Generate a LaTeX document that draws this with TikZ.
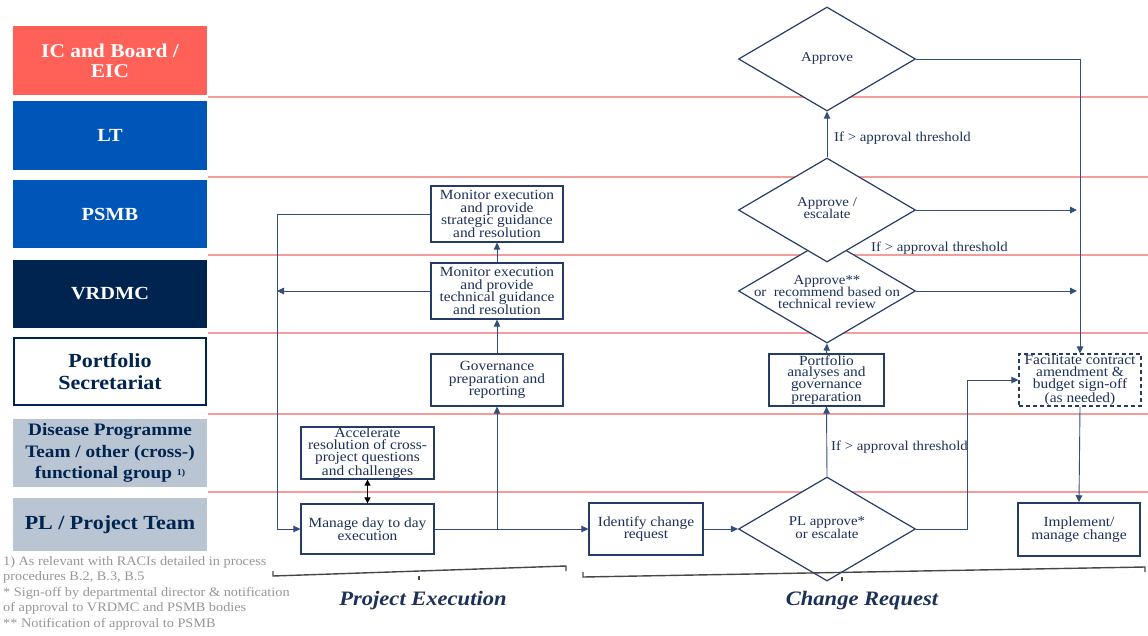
\documentclass[tikz,border=0pt]{standalone}
\usepackage{fontspec}
\setmainfont{Liberation Serif}[FakeStretch=1.1]
\usetikzlibrary{shapes.geometric,arrows.meta}
\definecolor{txt}{RGB}{28,48,88}
\definecolor{linec}{RGB}{52,78,122}
\definecolor{boxc}{RGB}{38,60,104}
\definecolor{redl}{RGB}{255,96,88}
\definecolor{bluel}{RGB}{0,85,184}
\definecolor{navyl}{RGB}{0,36,80}
\definecolor{grayl}{RGB}{186,197,212}
\definecolor{lanel}{RGB}{243,156,156}
\definecolor{fng}{RGB}{150,150,150}
\definecolor{bracec}{RGB}{70,70,70}
\tikzset{
  lanebox/.style={inner sep=0pt, align=center, minimum width=194pt, font=\bfseries\fontsize{18.5}{20}\selectfont},
  sep/.style={draw=lanel, line width=1.1pt},
  box/.style={draw=boxc, line width=1.2pt, fill=white, inner sep=0pt, align=center, text=txt, font=\fontsize{14}{12.8}\selectfont},
  dia/.style={diamond, draw=boxc, line width=1.2pt, fill=white, inner sep=0pt, minimum width=177pt, minimum height=104pt},
  diatext/.style={inner sep=0pt, align=center, text=txt, font=\fontsize{13.5}{12.3}\selectfont},
  arr/.style={draw=linec, line width=0.9pt, -{Triangle[length=7pt,width=6.5pt]}},
  plain/.style={draw=linec, line width=0.9pt},
  thr/.style={inner sep=0pt, anchor=west, text=txt, font=\fontsize{13.5}{14}\selectfont},
  brace/.style={draw=bracec, line width=1.4pt},
  phase/.style={inner sep=0pt, text=txt, font=\bfseries\itshape\fontsize{20.5}{22}\selectfont}
}
\begin{document}
\begin{tikzpicture}[x=1pt,y=-1pt]
\useasboundingbox (0,0) rectangle (1148,635);
% lane labels
\node[lanebox, fill=redl, text=white, minimum height=69pt, font=\bfseries\fontsize{19.5}{20}\selectfont] (ic) at (110,60.5) {IC and Board /\\EIC};
\node[lanebox, fill=bluel, text=white, minimum height=69pt] (lt) at (110,135.5) {LT};
\node[lanebox, fill=bluel, text=white, minimum height=68pt] (psmb) at (110,214) {PSMB};
\node[lanebox, fill=navyl, text=white, minimum height=68pt] (vrdmc) at (110,294) {VRDMC};
\node[lanebox, fill=white, draw=navyl, line width=2pt, text=navyl, minimum width=192pt, minimum height=67pt, font=\bfseries\fontsize{20}{22}\selectfont] (ps) at (110,371.5) {Portfolio\\Secretariat};
\node[lanebox, fill=grayl, text=navyl, minimum height=68pt, font=\bfseries\fontsize{17.5}{21.5}\selectfont] (dpt) at (110,453) {Disease Programme\\Team / other (cross-)\\functional group \raisebox{3pt}{\fontsize{9}{9}\selectfont 1)}};
\node[lanebox, fill=grayl, text=navyl, minimum height=53pt, font=\bfseries\fontsize{20}{22}\selectfont] (pll) at (110,524.5) {PL / Project Team};
% separators
\foreach \yy in {97,177,255,333,414,492} \draw[sep] (208,\yy) -- (1148,\yy);
% footnotes
\node[inner sep=0pt, anchor=west, align=left, text=fng, font=\fontsize{13}{15.5}\selectfont] (fn) at (3,593) {1) As relevant with RACIs detailed in process\\procedures B.2, B.3, B.5\\* Sign-off by departmental director \& notification\\of approval to VRDMC and PSMB bodies\\** Notification of approval to PSMB};
% diamonds
\node[dia] (rec) at (827,291) {};
\node[diatext] (rect) at (827,292) {Approve**\\or\ \ recommend based on\\technical review};
\node[dia] (esc) at (827,210) {};
\node[diatext] (esct) at (827,208) {Approve /\\escalate};
\node[dia] (appr) at (827,59) {};
\node[diatext] (apprt) at (827,58) {Approve};
\node[dia] (pl) at (827,529) {};
\node[diatext] (plt) at (827,527.5) {PL approve*\\or escalate};
% boxes
\node[box, minimum width=132pt, minimum height=56pt] (strat) at (497,214) {Monitor execution\\and provide\\strategic guidance\\and resolution};
\node[box, minimum width=132pt, minimum height=56pt] (tech) at (497,291) {Monitor execution\\and provide\\technical guidance\\and resolution};
\node[box, minimum width=132pt, minimum height=52pt] (gov) at (497,380) {Governance\\preparation and\\reporting};
\node[box, minimum width=133pt, minimum height=52pt, font=\fontsize{14}{11.8}\selectfont] (accel) at (367.5,453) {Accelerate\\resolution of cross-\\project questions\\and challenges};
\node[box, minimum width=133pt, minimum height=50pt, font=\fontsize{14}{11.8}\selectfont] (manage) at (367.5,529) {Manage day to day\\execution};
\node[box, minimum width=114pt, minimum height=52pt] (ident) at (646,529) {Identify change\\request};
\node[box, minimum width=115pt, minimum height=52pt, font=\fontsize{14}{11.8}\selectfont] (anal) at (826.5,380) {Portfolio\\analyses and\\governance\\preparation};
\node[box, dashed, dash pattern=on 4pt off 3pt, minimum width=122pt, minimum height=52pt, font=\fontsize{14}{11.8}\selectfont] (facil) at (1080,380) {Facilitate contract\\amendment \&\\budget sign-off\\(as needed)};
\node[box, line width=1.5pt, minimum width=122pt, minimum height=53pt, font=\fontsize{14}{11.8}\selectfont] (impl) at (1079,529.5) {Implement/\\manage change};
% project execution connectors
\coordinate (lt1) at (277,214);
\draw[arr] (strat.west) -- (lt1) |- (manage.west);
\draw[arr] (tech.west) -- (tech.west -| lt1);
\draw[arr] (tech.north) -- (strat.south);
\draw[arr] (gov.north) -- (tech.south);
\coordinate (jn) at (gov.south |- manage.east);
\draw[arr] (jn) -- (gov.south);
\draw[arr] (manage.east) -- (ident.west);
\draw[draw=black, line width=0.9pt, {Triangle[length=6pt,width=6pt]}-{Triangle[length=6pt,width=6pt]}] (accel.south) -- (manage.north);
% change request connectors
\draw[arr] (ident.east) -- (pl.west);
\draw[arr] (pl.north) -- (anal.south);
\node[thr] (th3) at (831,447) {If > approval threshold};
\draw[arr] (anal.north) -- (rec.south);
\draw[arr] (esc.north) -- (appr.south);
\node[thr] (th1) at (834,138) {If > approval threshold};
\node[thr] (th2) at (871,248) {If > approval threshold};
\coordinate (bend) at (967,529);
\draw[arr] (pl.east) -- (bend) |- (facil.west);
\draw[arr] (appr.east) -| (facil.north);
\coordinate (e1) at (1077,210);
\coordinate (e2) at (1077,291);
\draw[arr] (esc.east) -- (e1);
\draw[arr] (rec.east) -- (e2);
\draw[arr] (facil.south) -- (impl.north);
% braces
\coordinate (pa) at (273,571);
\coordinate (pb) at (566,571);
\draw[brace] (pa) -- ++(0,5) -- ([yshift=5pt]pb) -- (pb);
\draw[brace] (419,576) -- (419,579.5);
\node[phase] (pe) at (423,601) {Project Execution};
\coordinate (ca) at (583,572);
\coordinate (cb) at (1145,572);
\draw[brace] (ca) -- ++(0,5) -- ([yshift=5pt]cb) -- (cb);
\draw[brace] (842,577) -- (842,580.5);
\node[phase] (cr) at (862,601) {Change Request};
\end{tikzpicture}
\end{document}
